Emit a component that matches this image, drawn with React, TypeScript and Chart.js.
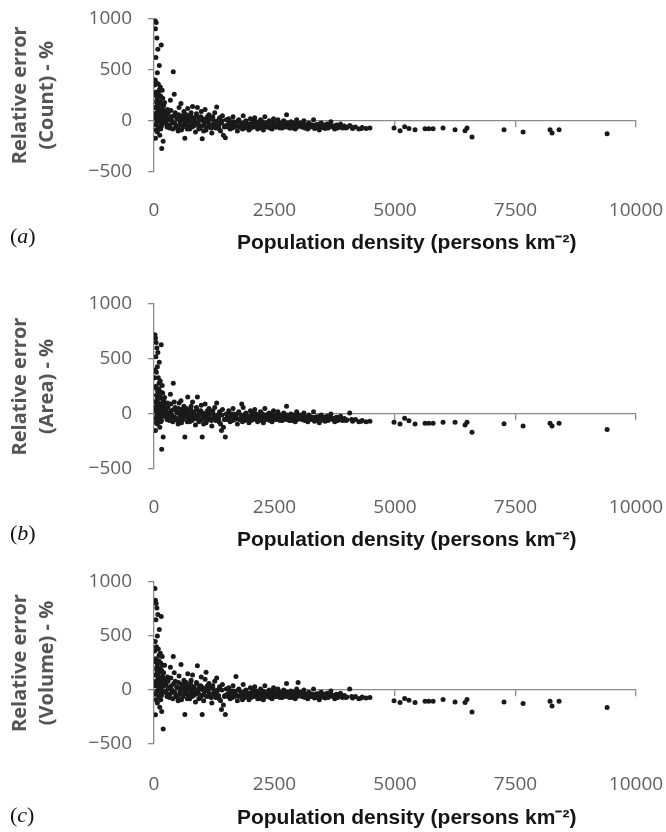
import React, { useEffect, useRef } from 'react';
import { Chart, registerables } from 'chart.js';

Chart.register(...registerables);

// ---------- data ----------
const DENSITY = [
  // near-zero column
  20, 30, 45, 60, 150, 80, 40, 110, 70, 25, 50, 90, 130, 170, 35, 100, 140, 180, 60, 120, 160, 200, 30, 80, 150, 190, 50, 110, 170, 20, 90, 130, 60, 180, 40, 100, 140, 70, 120, 30, 190, 160, 10, 200, 75,
  // 200 - 1500
  220, 240, 260, 280, 300, 320, 340, 360, 380, 400, 420, 440, 460, 480, 500, 520, 540, 560, 580, 600, 620, 640, 660, 680, 700, 720, 740, 760, 780, 800, 820, 840, 860, 880, 900, 920, 940, 960, 980, 1000, 1020, 1040, 1060, 1080, 1100, 1120, 1140, 1160, 1180, 1200, 1220, 1240, 1260, 1280, 1300, 1320, 1340, 1360, 1380, 1400, 1420, 1440, 1460, 1480, 1500, 450, 650, 850, 1050, 1250,
  // 1500 - 3000
  1520, 1550, 1580, 1610, 1640, 1670, 1700, 1730, 1760, 1790, 1820, 1850, 1880, 1910, 1940, 1970, 2000, 2030, 2060, 2090, 2120, 2150, 2180, 2210, 2240, 2270, 2300, 2330, 2360, 2390, 2420, 2450, 2480, 2510, 2540, 2570, 2600, 2630, 2660, 2690, 2720, 2750, 2780, 2810, 2840, 2870, 2900, 2930, 2960, 2990,
  // 3000 - 4500
  3030, 3070, 3110, 3150, 3190, 3230, 3270, 3310, 3350, 3390, 3430, 3470, 3510, 3550, 3590, 3630, 3670, 3710, 3750, 3790, 3830, 3870, 3910, 3950, 4000, 4060, 4120, 4180, 4250, 4320, 4400, 4480,
  // sparse tail
  4980, 5105, 5200, 5290, 5416, 5623, 5700, 5790, 5997, 6246, 6453, 6494, 6598, 7262, 7657, 8217, 8258, 8404, 9400,
  // extra near-zero column
  15, 35, 55, 65, 85, 95, 105, 115, 125, 135, 145, 155, 165, 175, 185, 195, 45, 75, 105, 135,
  // extra 200 - 1500
  210, 230, 250, 270, 290, 310, 330, 350, 370, 390, 410, 430, 470, 490, 510, 530, 550, 570, 590, 610, 630, 670, 690, 710, 730, 750, 770, 790, 810, 830, 870, 890, 910, 930, 950, 970, 990, 1010, 1030, 1070, 1090, 1110, 1150, 1190, 1230, 1270, 1310, 1350, 1410, 1470,
  // extra 1500 - 3000
  1535, 1565, 1595, 1625, 1655, 1685, 1715, 1745, 1775, 1805, 1835, 1865, 1895, 1925, 1955, 1985, 2015, 2045, 2075, 2105, 2135, 2165, 2195, 2225, 2255, 2285, 2315, 2345, 2375, 2405, 2435, 2465, 2495, 2525, 2555, 2585, 2615, 2645, 2675, 2705, 2735, 2765, 2795, 2825, 2855, 2885, 2915, 2945, 2975, 3005,
  // extra 3000 - 4500
  3050, 3090, 3130, 3170, 3210, 3250, 3290, 3330, 3370, 3410, 3450, 3490, 3530, 3570, 3610, 3650, 3690, 3730, 3770, 3810, 3850, 3900, 3980, 4100, 4300,
];

const ERR_COUNT = [
  980, 900, 960, 810, 740, 700, 620, 540, 470, 400, 370, 360, 330, 300, 280, 260, 240, 220, 200, 190, 170, 150, 130, 120, 100, 90, 80, 60, 50, 30, 20, 10, -10, -20, -40, -60, -80, -110, -140, -170, -200, -270, 50, 30, 150,
  180, 60, -30, 110, 10, -70, 200, 40, -20, 480, 260, 80, -50, 20, -100, 130, -10, 170, 50, -60, 90, -170, 0, -40, 120, 30, -80, 60, -20, 140, -50, 10, -110, 70, 130, -30, 20, -70, 90, -175, 0, -40, 110, -90, 30, -10, 60, -60, 20, -120, 40, -30, 80, -70, 135, 0, -50, 30, -100, -20, 50, -140, -60, -165, 10, -60, 40, -30, -10, -40,
  -40, 20, -80, -10, 40, -60, -20, -100, 10, -50, -30, 50, -70, 0, -40, -90, 20, -20, -60, 30, -10, -80, -30, 10, -50, -90, 40, -20, -60, 0, -40, -80, 20, -30, -60, 10, -50, -20, -70, 0, -40, 60, -30, -70, -10, -50, -20, -80, 10, -40,
  -20, -60, 0, -40, -80, -30, -55, 10, -70, -40, -90, -20, -50, -75, -30, -60, -10, -50, -80, -40, -60, -30, -70, -50, -65, -45, -75, -60, -80, -65, -75, -70,
  -69, -98, -59, -75, -88, -78, -78, -78, -69, -88, -98, -69, -157, -88, -108, -88, -118, -88, -127,
  350, 250, 180, 140, 110, 90, 70, 40, 20, 0, -30, -50, 80, 120, 60, 30, -90, 230, 300, 160,
  90, -10, 40, -60, 70, 20, -40, 100, 0, -80, 50, -20, 30, -70, 60, -40, 20, -90, 10, 40, -30, 60, -80, 0, -50, 20, 80, -60, -10, 30, -40, 50, -20, -80, 10, 40, -50, 20, -100, 0, -60, 40, -30, -70, 10, -40, -10, -80, 0, -50,
  -60, -20, -40, -70, -10, -30, -50, 0, -60, -20, -80, -40, -10, -60, -30, -50, -70, 0, -40, -20, -60, -30, -50, -70, -10, -40, -60, -20, -30, -70, -50, -10, -40, -60, -20, -50, -70, -30, -40, -10, -60, -20, -50, -40, -70, -30, -50, -20, -60, -30,
  -50, -30, -70, -45, -20, -60, -40, -75, -35, -55, -25, -65, -40, -50, -70, -35, -55, -65, -45, -70, -50, -60, -70, -60, -75,
];

const ERR_AREA = [
  720, 690, 650, 600, 630, 560, 520, 470, 430, 400, 380, 330, 300, 260, 250, 230, 200, 190, 170, 160, 140, 120, 110, 100, 90, 80, 70, 50, 40, 30, 20, 0, -10, -20, -40, -50, -70, -90, -120, -150, -210, -320, 60, 20, 140,
  150, 50, -20, 100, 0, -60, 180, 30, -30, 280, 110, 60, -40, 10, -90, 100, -20, 120, 40, -50, 70, -210, -10, -30, 155, 20, -70, 50, -30, 110, -40, 0, -100, 60, 155, -20, 10, -60, 80, -210, -10, -30, 90, -80, 20, -20, 50, -50, 10, -110, 30, -40, 60, -60, 100, -10, -40, 20, -90, -150, 40, -120, -50, -210, 0, -50, 30, -20, -20, -30,
  -30, 30, -70, 0, 50, -50, -10, -90, 20, -40, 90, 60, -60, 10, -30, -80, 30, -10, -50, 40, 0, -70, -20, 20, -40, -80, 50, -10, -50, 10, -30, -70, 30, -20, -50, 20, -40, -10, -60, 10, -30, 70, -20, -60, 0, -40, -10, -70, 20, -30,
  -10, -50, 10, -30, -70, -20, -45, 20, -60, -30, -80, -10, -40, -65, -20, -50, 0, -40, -70, -30, -50, -20, -60, -40, -55, 10, -65, -50, -70, -60, -70, -65,
  -76, -91, -39, -61, -91, -85, -85, -85, -76, -76, -100, -76, -167, -88, -108, -85, -110, -85, -140,
  330, 240, 170, 130, 100, 80, 60, 30, 10, -10, -30, -60, 70, 100, 50, 20, -80, 210, 280, 150,
  80, -20, 30, -50, 60, 10, -40, 90, -10, -70, 40, -30, 20, -60, 50, -40, 10, -80, 0, 30, -30, 50, -70, -10, -50, 10, 70, -60, -20, 20, -40, 40, -20, -70, 0, 30, -50, 10, -90, -10, -60, 30, -30, -60, 0, -40, -20, -70, -10, -50,
  -50, -10, -30, -60, 0, -20, -40, 10, -50, -10, -70, -30, 0, -50, -20, -40, -60, 10, -30, -10, -50, -20, -40, -60, 0, -30, -50, -10, -20, -60, -40, 0, -30, -50, -10, -40, -60, -20, -30, 0, -50, -10, -40, -30, -60, -20, -40, -10, -50, -20,
  -40, -20, -60, -35, -10, -50, -30, -65, -25, -45, -15, -55, -30, -40, -60, -25, -45, -55, -35, -60, -40, -50, -60, -50, -65,
];

const ERR_VOLUME = [
  940, 830, 800, 760, 680, 700, 650, 560, 500, 450, 400, 380, 340, 310, 290, 270, 250, 230, 210, 200, 180, 160, 140, 130, 110, 100, 85, 70, 55, 40, 25, 10, -10, -20, -40, -60, -90, -120, -160, -230, -360, -200, 60, 40, 160,
  230, 60, -30, 120, 10, -70, 210, 40, -20, 310, 160, 80, -50, 20, -100, 130, -10, 235, 50, -60, 90, -226, 0, -40, 150, 30, -80, 60, -20, 140, -50, 10, -110, 70, 225, -30, 20, -70, 120, -226, 0, -40, 100, 165, 30, -10, 60, -60, 20, -120, 40, -30, 80, -70, 110, 0, -50, 30, -100, -180, 50, -140, -60, -226, 10, -60, 40, -30, -10, -40,
  -40, 20, -80, -10, 40, -60, 125, -100, 10, -50, -30, 50, -70, 0, -40, -90, 20, -20, -60, 30, -10, -80, -30, 10, -50, -90, 40, -20, -60, 0, -40, -80, 20, -30, -60, 10, -50, -20, -70, 0, -40, 60, -30, -70, -10, -50, -20, -80, 10, 70,
  -20, -60, 0, -40, -80, -30, -55, 10, -70, -40, -90, -20, -50, -75, -30, -60, -10, -50, -80, -40, -60, -30, -70, -50, -65, 10, -75, -60, -80, -65, -75, -70,
  -100, -116, -79, -94, -116, -104, -104, -104, -88, -110, -116, -88, -204, -110, -126, -104, -148, -104, -163,
  360, 260, 190, 150, 120, 95, 75, 45, 25, 5, -30, -50, 85, 130, 65, 35, -90, 240, 320, 170,
  100, -10, 50, -60, 80, 20, -40, 110, 0, -80, 60, -20, 30, -70, 70, -40, 20, -90, 10, 50, -30, 70, -80, 0, -50, 20, 90, -60, -10, 30, -40, 60, -20, -80, 10, 40, -50, 20, -100, 0, -60, 40, -30, -70, 10, -40, -10, -80, 0, -50,
  -60, -20, -40, -70, -10, -30, -50, 0, -60, -20, -90, -40, -10, -60, -30, -50, -70, 0, -40, -20, -60, -30, -50, -80, -10, -40, -60, -20, -30, -70, -50, -10, -40, -60, -20, -50, -70, -30, -40, -10, -60, -20, -50, -40, -70, -30, -50, -20, -60, -30,
  -50, -30, -70, -45, -20, -60, -40, -75, -35, -55, -25, -65, -40, -50, -70, -35, -55, -65, -45, -70, -50, -60, -70, -60, -75,
];

const X_TICKS = [0, 2500, 5000, 7500, 10000];
const Y_TICKS = [-500, 0, 500, 1000];
const X_TITLE = 'Population density (persons km\u207B\u00B2)';
const Y_TITLE_COUNT = ['Relative error', '(Count) - %'];
const Y_TITLE_AREA = ['Relative error', '(Area) - %'];
const Y_TITLE_VOLUME = ['Relative error', '(Volume) - %'];
const PANEL_LETTERS = ['a', 'b', 'c'];

// ---------- layout ----------
const PANELS = [
  { errors: ERR_COUNT, yTitle: Y_TITLE_COUNT, top: 0, height: 277, chartTop: 18.5, chartBottom: 172, tickPad: 27.6, titlePad: 21.4, letterTop: 223 },
  { errors: ERR_AREA, yTitle: Y_TITLE_AREA, top: 277, height: 277, chartTop: 27, chartBottom: 192, tickPad: 27.6, titlePad: 1.4, letterTop: 243 },
  { errors: ERR_VOLUME, yTitle: Y_TITLE_VOLUME, top: 554, height: 278, chartTop: 28, chartBottom: 190, tickPad: 29.6, titlePad: 1.4, letterTop: 248 },
];

const AXIS_COLOR = '#8a8a8a';
const TICK_COLOR = '#5f5f5f';
const TICK_FONT = { family: '"Open Sans", sans-serif', size: 19 };

function fmt(v: number) {
  return v < 0 ? '\u2212' + Math.abs(v) : String(v);
}

function zeroPad(s: any) {
  s.paddingLeft = 0;
  s.paddingRight = 0;
  s.paddingTop = 0;
  s.paddingBottom = 0;
}

function Panel({ cfg, letter }: { cfg: any; letter: string }) {
  const ref = useRef<HTMLCanvasElement>(null);
  useEffect(() => {
    const canvas = ref.current!;
    const xH = cfg.height - cfg.chartBottom;
    const n = Math.min(DENSITY.length, cfg.errors.length);
    const points = DENSITY.slice(0, n).map((d, i) => ({ x: d, y: cfg.errors[i] }));
    const chart = new Chart(canvas, {
      type: 'scatter',
      data: {
        datasets: [
          {
            data: points,
            xAxisID: 'x',
            yAxisID: 'y',
            pointRadius: 2.5,
            pointHoverRadius: 2.5,
            backgroundColor: '#1a1a1a',
            borderWidth: 0,
          },
        ],
      },
      options: {
        responsive: false,
        animation: false,
        devicePixelRatio: 1,
        events: [],
        layout: { autoPadding: false, padding: { top: cfg.chartTop, right: 30, bottom: 0, left: 0 } },
        plugins: { legend: { display: false }, tooltip: { enabled: false } },
        scales: {
          x: {
            type: 'linear',
            position: { y: 0 },
            min: 0,
            max: 10000,
            afterBuildTicks: (s: any) => {
              s.ticks = X_TICKS.map((v) => ({ value: v }));
            },
            afterFit: zeroPad,
            ticks: { display: false },
            grid: { drawOnChartArea: false, drawTicks: true, tickLength: 6, color: AXIS_COLOR, lineWidth: 1.3 },
            border: { color: AXIS_COLOR, width: 1.3 },
          },
          x2: {
            type: 'linear',
            position: 'bottom',
            min: 0,
            max: 10000,
            afterBuildTicks: (s: any) => {
              s.ticks = X_TICKS.map((v) => ({ value: v }));
            },
            afterFit: (s: any) => {
              s.height = xH;
              zeroPad(s);
            },
            grid: { display: false, drawTicks: false },
            border: { display: false },
            ticks: {
              padding: cfg.tickPad,
              font: TICK_FONT,
              color: TICK_COLOR,
              maxRotation: 0,
              autoSkip: false,
              callback: (v: any) => fmt(Number(v)),
            },
            title: {
              display: true,
              text: '    ' + X_TITLE,
              font: { family: '"Liberation Sans", Arial, sans-serif', size: 21, weight: 'bold' },
              color: '#151515',
              padding: { top: 0, bottom: cfg.titlePad },
            },
          },
          y: {
            type: 'linear',
            position: 'left',
            min: -500,
            max: 1000,
            afterBuildTicks: (s: any) => {
              s.ticks = Y_TICKS.map((v) => ({ value: v }));
            },
            afterFit: (s: any) => {
              s.width = 154;
              zeroPad(s);
            },
            ticks: {
              padding: 16,
              font: TICK_FONT,
              color: TICK_COLOR,
              callback: (v: any) => fmt(Number(v)),
            },
            grid: { drawOnChartArea: false, drawTicks: true, tickLength: 6, color: AXIS_COLOR, lineWidth: 1.3 },
            border: { color: AXIS_COLOR, width: 1.3 },
            title: {
              display: true,
              text: cfg.yTitle,
              font: { family: '"Open Sans", sans-serif', size: 20, weight: 'bold', lineHeight: 1.35 },
              color: '#555555',
              padding: { top: 6.5, bottom: 0 },
            },
          },
        },
      },
    } as any);
    return () => chart.destroy();
  }, [cfg]);

  return (
    <div style={{ position: 'absolute', left: 0, top: cfg.top, width: 666, height: cfg.height }}>
      <canvas ref={ref} width={666} height={cfg.height} style={{ display: 'block', width: 666, height: cfg.height }} />
      <div
        style={{
          position: 'absolute',
          left: 10,
          top: cfg.letterTop,
          fontFamily: '"Liberation Serif", "Times New Roman", serif',
          fontSize: 22,
          lineHeight: '25px',
          color: '#111',
        }}
      >
        (<i>{letter}</i>)
      </div>
    </div>
  );
}

export default function App() {
  return (
    <div style={{ position: 'absolute', left: 0, top: 0, width: 666, height: 832, background: '#fff', overflow: 'hidden' }}>
      {PANELS.map((p, i) => (
        <Panel key={i} cfg={p} letter={PANEL_LETTERS[i]} />
      ))}
    </div>
  );
}
